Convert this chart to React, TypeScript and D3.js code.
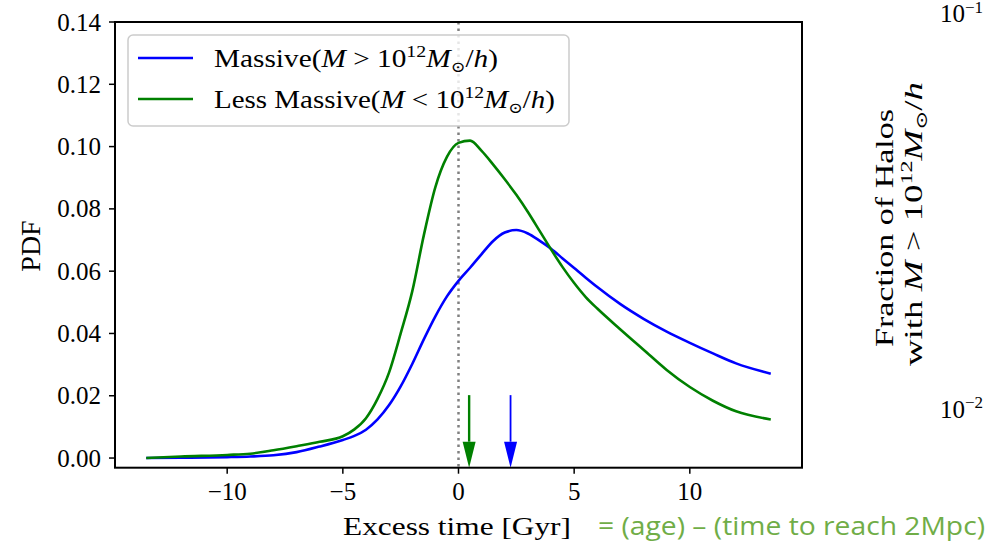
import React from "react";
import * as d3 from "d3";

const times = [-13.5, -12, -10, -9, -8, -7, -6, -5, -4.5, -4, -3.5, -3, -2.5, -2, -1.5, -1, -0.5, 0, 0.5, 1, 1.5, 2, 2.5, 3, 3.5, 4, 4.5, 5, 5.5, 6, 7, 8, 9, 10, 11, 12, 13.5];
const massive = [0.0, 0.0001, 0.0003, 0.0005, 0.0009, 0.0019, 0.0037, 0.0058, 0.0071, 0.0091, 0.0124, 0.017, 0.023, 0.0302, 0.0381, 0.0455, 0.0519, 0.0569, 0.0611, 0.0655, 0.0697, 0.0724, 0.0732, 0.0721, 0.0698, 0.0672, 0.0641, 0.061, 0.0579, 0.0549, 0.0494, 0.0447, 0.0406, 0.037, 0.0336, 0.0304, 0.0271];
const lessMassive = [0.0, 0.0005, 0.001, 0.0014, 0.0025, 0.0038, 0.0052, 0.007, 0.0092, 0.0128, 0.019, 0.0275, 0.04, 0.0535, 0.0715, 0.087, 0.0967, 0.1012, 0.1019, 0.0986, 0.0942, 0.0895, 0.0845, 0.079, 0.073, 0.067, 0.0613, 0.0562, 0.0517, 0.048, 0.0413, 0.0348, 0.0283, 0.0228, 0.0184, 0.015, 0.0124];
const yTicks = [0, 0.02, 0.04, 0.06, 0.08, 0.1, 0.12, 0.14];
const xTicks = [-10, -5, 0, 5, 10];
const arrowMassive = 2.25;
const arrowLess = 0.46;
const arrowTop = 0.0202;

const SERIF = "'Liberation Serif', 'DejaVu Serif', serif";

export default function App() {
  const x = d3.scaleLinear().domain([-14.85, 14.85]).range([115, 802]);
  const y = d3.scaleLinear().domain([-0.0031, 0.14]).range([467.7, 22]);
  const line = d3
    .line<number>()
    .x((_, i) => x(times[i]))
    .y((d) => y(d))
    .curve(d3.curveMonotoneX);

  const arrow = (xv: number, color: string, lw: number, hw: number) => {
    const px = x(xv);
    const top = y(arrowTop);
    const tip = y.range()[0];
    const base = tip - 26;
    return (
      <g>
        <line x1={px} x2={px} y1={top} y2={base} stroke={color} strokeWidth={lw} />
        <path d={`M${px - hw},${base}L${px + hw},${base}L${px},${tip}Z`} fill={color} />
      </g>
    );
  };

  const [y0, y1] = y.range();
  const [x0, x1] = x.range();

  const massLabel = (rel: string, sub: number, sup: number) => (
    <>
      (<tspan fontStyle="italic">M</tspan> {rel} 10<tspan dy={-10} fontSize={sup}>12</tspan>
      <tspan dy={10} fontStyle="italic">M</tspan>
      <tspan dy={5} fontSize={sub}>⊙</tspan>
      <tspan dy={-5}>/</tspan>
      <tspan fontStyle="italic">h</tspan>)
    </>
  );

  return (
    <svg width={995} height={544} style={{ position: "absolute", left: 0, top: 0, background: "#fff" }} fontFamily={SERIF}>
      <rect width={995} height={544} fill="#fff" />
      <line x1={x(0)} x2={x(0)} y1={y1} y2={y0} stroke="#808080" strokeWidth={2.5} strokeDasharray="2.5,4" />
      <path d={line(massive) || ""} fill="none" stroke="#0000ff" strokeWidth={2.6} />
      <path d={line(lessMassive) || ""} fill="none" stroke="#008000" strokeWidth={2.6} />
      {arrow(arrowLess, "#008000", 2.4, 6.5)}
      {arrow(arrowMassive, "#0000ff", 1.8, 6.5)}
      <rect x={x0} y={y1} width={x1 - x0} height={y0 - y1} fill="none" stroke="#000" strokeWidth={2} />
      {yTicks.map((t) => (
        <g key={"y" + t}>
          <line x1={x0 - 6} x2={x0} y1={y(t)} y2={y(t)} stroke="#000" strokeWidth={1.5} />
          <text x={x0 - 14} y={y(t) + 8.5} textAnchor="end" fontSize={25}>
            {t.toFixed(2)}
          </text>
        </g>
      ))}
      {xTicks.map((t) => (
        <g key={"x" + t}>
          <line x1={x(t)} x2={x(t)} y1={y0} y2={y0 + 6} stroke="#000" strokeWidth={1.5} />
          <text x={x(t)} y={500} textAnchor="middle" fontSize={25}>
            {t < 0 ? "\u2212" + Math.abs(t) : String(t)}
          </text>
        </g>
      ))}
      <text x={457} y={535} textAnchor="middle" fontSize={26} textLength={228} lengthAdjust="spacingAndGlyphs">
        Excess time [Gyr]
      </text>
      <text transform="translate(40,246) rotate(-90)" textAnchor="middle" fontSize={28}>
        PDF
      </text>
      <text x={598} y={535} fontSize={25} fill="#70ad47" fontFamily="'Open Sans', 'Noto Sans', sans-serif" textLength={387} lengthAdjust="spacingAndGlyphs">
        = (age) – (time to reach 2Mpc)
      </text>
      <rect x={128} y={35} width={441} height={91} rx={5} fill="#fff" fillOpacity={0.8} stroke="#cccccc" strokeWidth={1.5} />
      <line x1={138} x2={193} y1={58} y2={58} stroke="#0000ff" strokeWidth={2.6} />
      <line x1={138} x2={193} y1={99} y2={99} stroke="#008000" strokeWidth={2.6} />
      <text x={214} y={67} fontSize={25} textLength={284} lengthAdjust="spacingAndGlyphs">
        Massive{massLabel(">", 15, 17)}
      </text>
      <text x={214} y={108} fontSize={25} textLength={341} lengthAdjust="spacingAndGlyphs">
        Less Massive{massLabel("<", 15, 17)}
      </text>
      <text x={940} y={22} fontSize={25}>
        10<tspan dy={-9} fontSize={17}>−1</tspan>
      </text>
      <text x={940} y={418} fontSize={25}>
        10<tspan dy={-10} fontSize={17}>−2</tspan>
      </text>
      <text transform="translate(893,228) rotate(-90)" textAnchor="middle" fontSize={26} textLength={238} lengthAdjust="spacingAndGlyphs">
        Fraction of Halos
      </text>
      <text transform="translate(922,224) rotate(-90)" textAnchor="middle" fontSize={26} textLength={284} lengthAdjust="spacingAndGlyphs">
        with <tspan fontStyle="italic">M</tspan> &gt; 10<tspan dy={-10} fontSize={17}>12</tspan>
        <tspan dy={10} fontStyle="italic">M</tspan>
        <tspan dy={5} fontSize={16}>⊙</tspan>
        <tspan dy={-5}>/</tspan>
        <tspan fontStyle="italic">h</tspan>
      </text>
    </svg>
  );
}
